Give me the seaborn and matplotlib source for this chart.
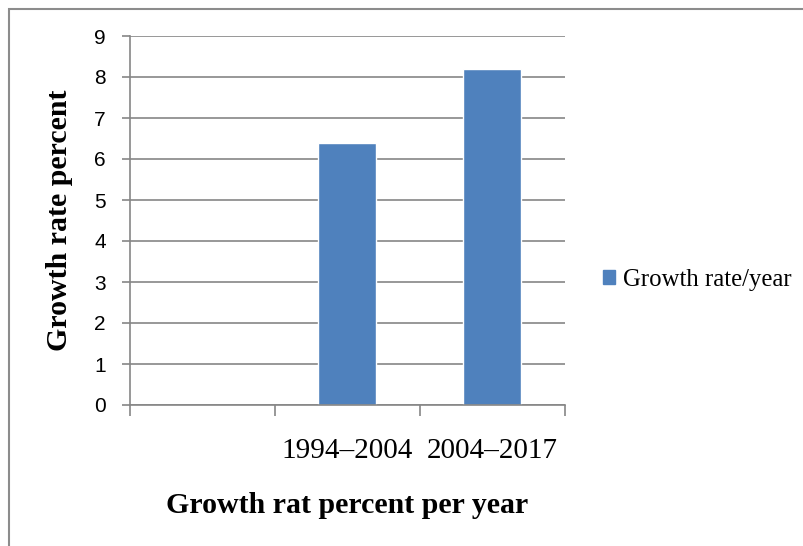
import matplotlib.pyplot as plt
import matplotlib.patches as mpatches
import numpy as np
import pandas as pd
import seaborn as sns

# data (first slot is empty)
periods = ['', '1994–2004', '2004–2017']
growth = [np.nan, 6.4, 8.2]
series_name = 'Growth rate/year'

df = pd.DataFrame({'period': periods, 'growth': growth})

sns.set_style('white')
plt.rcParams['text.color'] = 'black'
plt.rcParams['xtick.color'] = 'black'
plt.rcParams['ytick.color'] = 'black'

fig = plt.figure(figsize=(8.04, 5.46), dpi=100)
ax = fig.add_axes([130/804, 1 - 405/546, 435/804, 369/546])

grid_col = '#868686'
bar_col = '#4F81BD'
sns.barplot(data=df, x='period', y='growth', order=periods, color=bar_col,
            width=0.4, saturation=1, ax=ax)

ax.set_xlim(-0.5, 2.5)
ax.set_ylim(0, 9)
ax.set_yticks(range(0, 10))
ax.yaxis.grid(True, color=grid_col, linewidth=1.2)
ax.set_axisbelow(True)
for s in ['top', 'right']:
    ax.spines[s].set_visible(False)
for s in ['left', 'bottom']:
    ax.spines[s].set_color(grid_col)
    ax.spines[s].set_linewidth(1.2)

# category boundary ticks
ax.set_xticks([-0.5, 0.5, 1.5, 2.5], minor=True)
ax.tick_params(axis='x', which='minor', bottom=True, length=8, width=1.2, color=grid_col, direction='out')
ax.tick_params(axis='x', which='major', bottom=True, length=0, pad=24, labelcolor='black')
ax.tick_params(axis='y', left=True, length=6, width=1.2, color=grid_col, pad=11.5, labelcolor='black')
for lbl in ax.get_xticklabels():
    lbl.set_fontfamily('Liberation Serif')
    lbl.set_fontsize(21)
for lbl in ax.get_yticklabels():
    lbl.set_fontfamily('Liberation Sans')
    lbl.set_fontsize(15)

ax.set_xlabel('Growth rat percent per year', fontfamily='Liberation Serif',
              fontweight='bold', fontsize=21.5, color='black')
ax.set_ylabel('Growth rate percent', fontfamily='Liberation Serif',
              fontweight='bold', fontsize=21.5, color='black')
ax.xaxis.set_label_coords(0.498, -0.236)
ax.yaxis.set_label_coords(-0.13, 0.5)

handle = mpatches.Patch(color=bar_col, label=series_name)
fig.legend(handles=[handle], loc='center left', bbox_to_anchor=(603/804, 1 - 280/546),
           frameon=False, prop={'family': 'Liberation Serif', 'size': 17.8},
           handlelength=0.5, handleheight=0.5, handletextpad=0.3, borderpad=0,
           borderaxespad=0, labelcolor='black')

# outer chart frame
fig.patches.append(mpatches.Rectangle((9/804, -0.1), 1.2, 1 - 9/546 + 0.1,
                                      transform=fig.transFigure, fill=False,
                                      edgecolor='#8c8c8c', linewidth=1.5))

fig.savefig('out.png', dpi=100)
